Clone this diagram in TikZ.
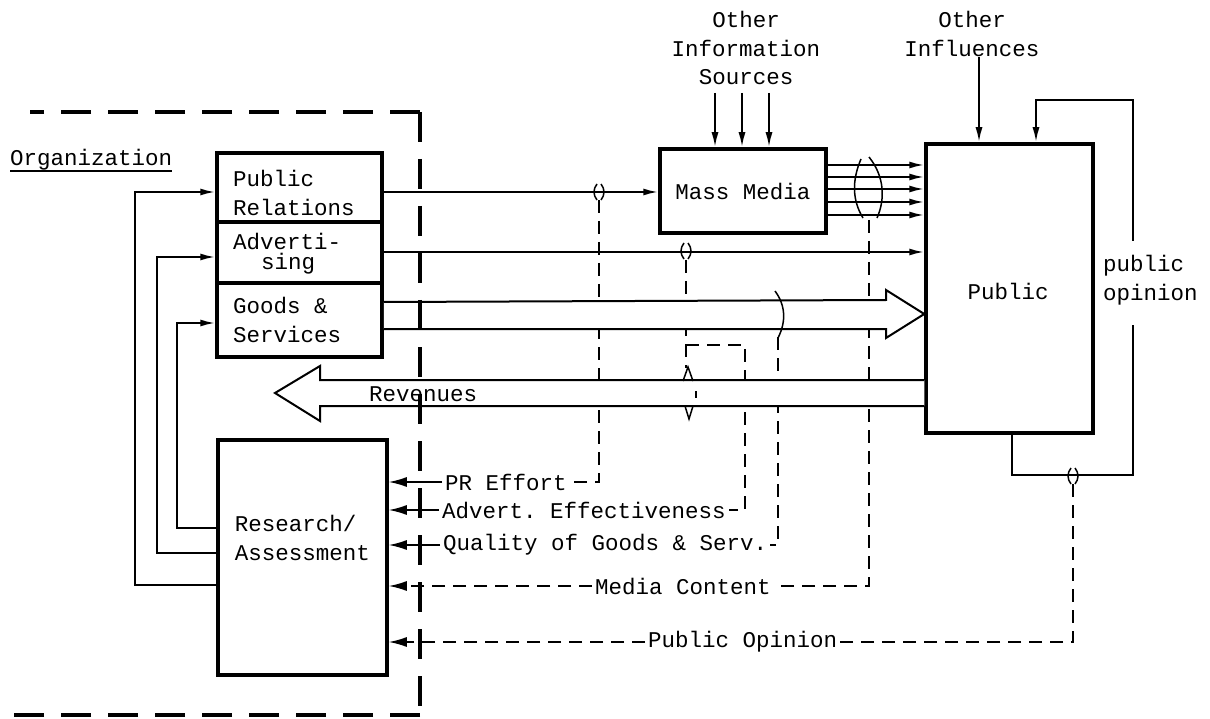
\documentclass[tikz,border=0pt]{standalone}
\usepackage{fontspec}
\setmonofont{Liberation Mono}
\usetikzlibrary{arrows.meta,calc}
\tikzset{
  blk/.style={draw, line width=3.5pt, fill=white},
  conn/.style={line width=2pt},
  arrowend/.style={-{Latex[length=15pt,width=7pt]}},
  arrowres/.style={-{Latex[length=18pt,width=10pt]}},
  dline/.style={line width=1.6pt, dash pattern=on 13pt off 8pt},
  thinl/.style={line width=1.6pt},
  orgline/.style={line width=4pt, dash pattern=on 30pt off 17pt},
  lab/.style={fill=white, inner sep=3pt},
  markl/.style={line width=1.5pt},
  brkmark/.pic={
    \draw[markl] (-2,-8) .. controls (-6,-3) and (-6,3) .. (-2,8);
    \draw[markl] (2,-8) .. controls (6,-3) and (6,3) .. (2,8);
  }
}
\begin{document}
\begin{tikzpicture}[x=1pt,y=-1pt,
  every node/.style={font=\ttfamily\fontsize{22.5}{28.5}\selectfont, inner sep=0pt}]
\useasboundingbox (0,0) rectangle (1210,719);

% ---------- boxes ----------
\node[blk, minimum width=165pt, minimum height=69pt] (pr) at (299.5,187.5) {};
\node[blk, minimum width=165pt, minimum height=61pt] (adv) at (299.5,252.5) {};
\node[blk, minimum width=165pt, minimum height=74pt] (goods) at (299.5,320) {};
\node[blk, minimum width=169pt, minimum height=235pt] (research) at (302.5,557.5) {};
\node[blk, minimum width=166pt, minimum height=84pt] (mm) at (743,191) {Mass Media};
\node[blk, minimum width=167pt, minimum height=289pt] (public) at (1009.5,288.5) {};

% ---------- box texts ----------
\node[align=left, anchor=west] (prtext) at (233,193) {Public\\Relations};
\node[align=left, anchor=west] (advtext) at (233,253.5) {Adverti-\\[-8pt]\hspace*{28pt}sing};
\node[align=left, anchor=west] (goodstext) at (233,320) {Goods \&\\Services};
\node[align=left] (restext) at (302.5,538) {Research/\\Assessment};
\node (pubtext) at (1008,291) {Public};

% ---------- other texts ----------
\node[anchor=base west] (orgname) at (10,166) {Organization};
\draw[line width=1.5pt] (orgname.south west) -- (orgname.south east);
\node[align=center] (ois) at (746,48) {Other\\Information\\Sources};
\node[align=center] (oinf) at (972,34) {Other\\Influences};
\node[align=left, anchor=west] (popl) at (1103,280) {public\\opinion};

% ---------- dashed measurement lines ----------
\node[lab, anchor=west] (prl) at (442,482) {PR Effort};
\draw[dline] (599,200) -- (599,482) -- (prl.east);
\draw[thinl, arrowres] (prl.west) -- (research.east |- prl.west);

\node[lab, anchor=west] (advl) at (439,510) {Advert. Effectiveness};
\draw[dline] (686,260) -- (686,368);
\draw[dline] (686,345) -- (745,345) -- (745,510) -- (advl.east);
\draw[thinl, arrowres] (advl.west) -- (research.east |- advl.west);

\node[lab, anchor=west] (qual) at (440,545) {Quality of Goods \& Serv.};
\draw[dline] (778,337) -- (778,545) -- (qual.east);
\draw[thinl, arrowres] (qual.west) -- (research.east |- qual.west);

\node[lab, anchor=west] (mcl) at (592,586) {Media Content};
\draw[dline] (869,220) -- (869,586) -- (mcl.east);
\draw[dline, arrowres] (mcl.west) -- (research.east |- mcl.west);

\node[lab, anchor=west] (pol) at (645,642) {Public Opinion};
\draw[dline] (1073,484) -- (1073,642) -- (pol.east);
\draw[dline, arrowres] (pol.west) -- (research.east |- pol.west);

% ---------- solid connectors ----------
\draw[conn, arrowend] (pr.east |- 0,192) -- (mm.west |- 0,192);
\draw[conn, arrowend] (adv.east |- 0,252) -- (public.west |- 0,252);
\foreach \y in {165,177,189,202,215}
  \draw[conn, arrowend] (mm.east |- 0,\y) -- (public.west |- 0,\y);
\foreach \x in {715,742,769}
  \draw[conn, arrowend] (\x,93) -- (mm.north -| \x,0);
\draw[conn, arrowend] (oinf.south -| 979,0) -- (public.north -| 979,0);

% public opinion feedback loop
\draw[conn] (public.south -| 1012,0) -- (1012,475) -- (1133,475) -- (1133,325);
\draw[conn, arrowend] (1133,241) -- (1133,100) -- (1036,100) -- (public.north -| 1036,0);

% research feedback to organization
\draw[conn, arrowend] (research.west |- 0,585) -- (135,585) -- (135,192) -- (pr.west |- 0,192);
\draw[conn, arrowend] (research.west |- 0,553) -- (157,553) -- (157,257) -- (adv.west |- 0,257);
\draw[conn, arrowend] (research.west |- 0,528) -- (177,528) -- (177,323) -- (goods.west |- 0,323);

% ---------- hollow arrows ----------
\draw[conn, fill=white] (goods.east |- 0,302) -- (886,300) -- (886,290) -- (public.west |- 0,314) -- (886,338) -- (886,329) -- (goods.east |- 0,329);
\draw[conn, fill=white] (public.west |- 0,380) -- (320,380) -- (320,366) -- (275,393) -- (320,421) -- (320,406) -- (public.west |- 0,406);
\node[anchor=west] (revl) at (369,394) {Revenues};

% ---------- tap marks ----------
\pic at (599,192) {brkmark};
\pic at (686,251) {brkmark};
\pic at (1073,476) {brkmark};
\draw[markl] (861,159) .. controls (852,180) and (852,200) .. (863,218);
\draw[markl] (869,157) .. controls (885,177) and (885,200) .. (877,218);
\draw[markl] (775,291) .. controls (786,306) and (786,322) .. (778,338);
\draw[markl] (683,381) -- (688,367) -- (693,381);
\draw[markl] (685,406) -- (689,419) -- (693,406);
\draw[markl] (696,391) -- (696,398);

% ---------- organization boundary ----------
\draw[orgline] (420,112) -- (30,112);
\draw[orgline] (420,112) -- (420,715);
\draw[orgline] (420,715) -- (0,715);
\end{tikzpicture}
\end{document}
